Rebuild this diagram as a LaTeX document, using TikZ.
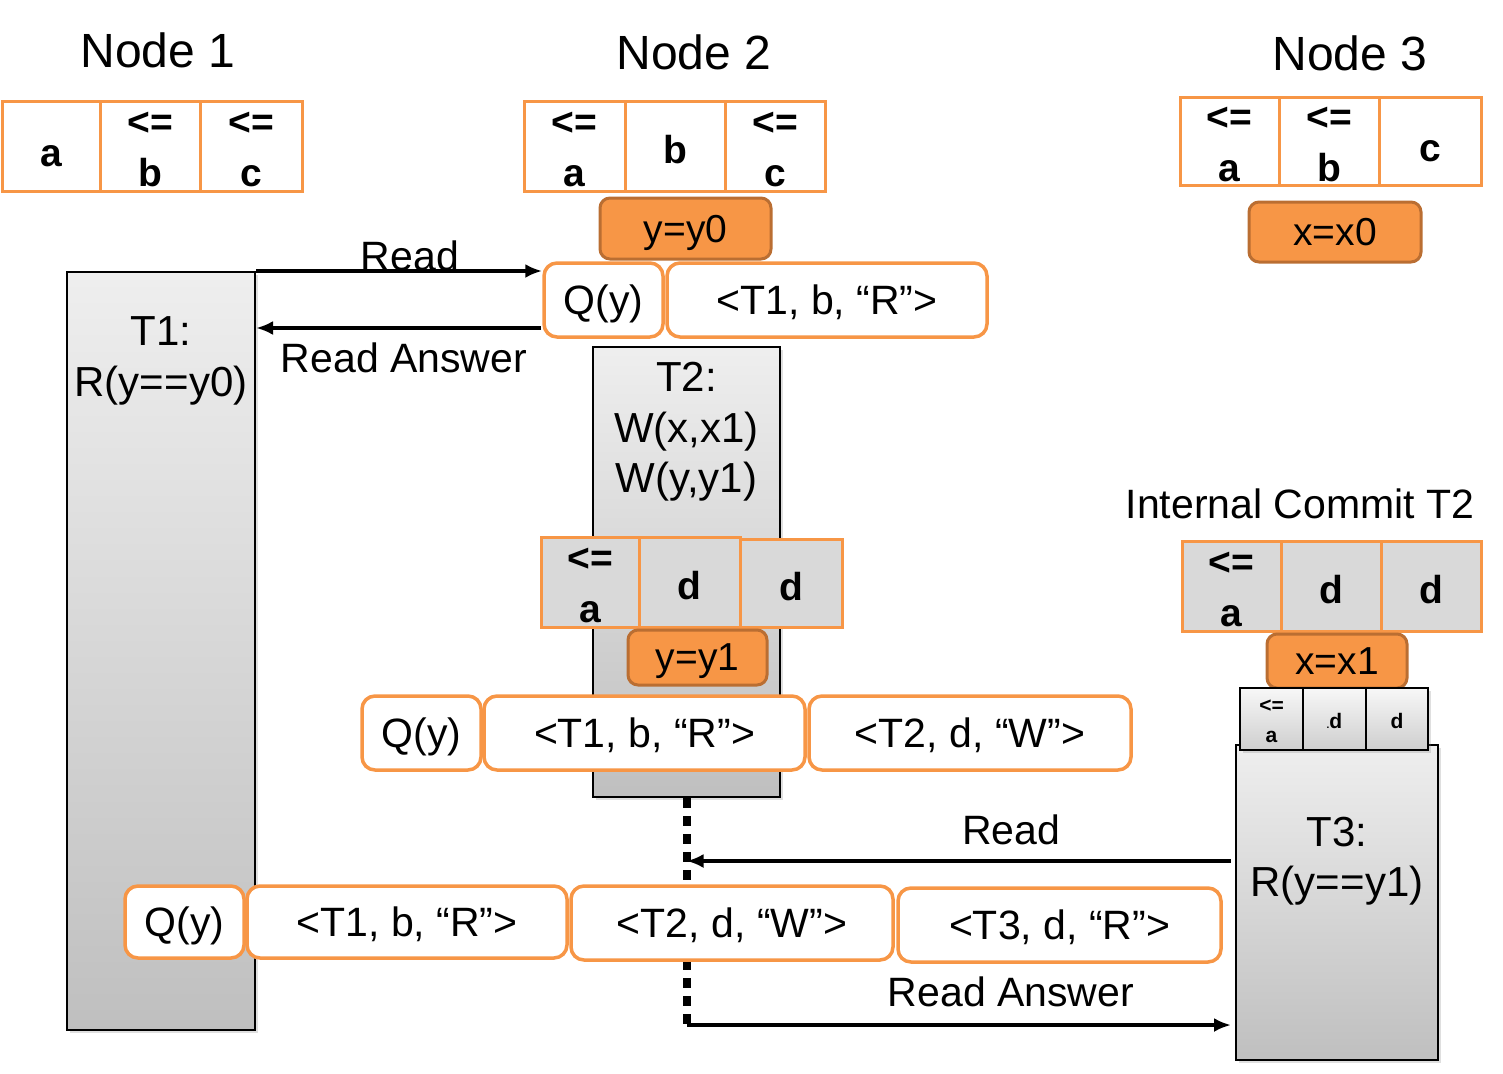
\documentclass[tikz,border=0pt]{standalone}
\usepackage{fontspec}
\setmainfont{Liberation Sans}
\usetikzlibrary{arrows.meta,shadows}
\definecolor{org}{RGB}{247,150,70}
\definecolor{orgdark}{RGB}{186,110,50}
\definecolor{cellgray}{RGB}{217,217,217}
\tikzset{
  titletext/.style={inner sep=0pt, font=\fontsize{48}{56}\selectfont},
  cell/.style={draw=org, line width=3pt, inner sep=0pt},
  graycell/.style={cell, fill=cellgray},
  ctext/.style={inner sep=0pt, align=center, yshift=-3.5pt,
    font=\fontsize{39}{51}\selectfont\bfseries},
  ctextlow/.style={ctext, yshift=-7pt},
  smallcell/.style={draw=black, line width=1.6pt, inner sep=0pt,
    top color=gray!6, bottom color=gray!38,
    drop shadow={opacity=0.25, shadow xshift=3pt, shadow yshift=-3pt}},
  stext/.style={inner sep=0pt, align=center, yshift=-2pt,
    font=\fontsize{21}{30}\selectfont\bfseries},
  valbox/.style={fill=org, draw=orgdark, line width=3pt, rounded corners=10pt,
    inner sep=0pt, text depth=0pt, font=\fontsize{39}{46}\selectfont},
  qbox/.style={draw=org, line width=3.5pt, rounded corners=13pt, fill=white,
    inner sep=0pt, text depth=0pt, font=\fontsize{41}{50}\selectfont},
  txbox/.style={draw=black, line width=2pt, inner sep=0pt,
    top color=gray!13, bottom color=gray!50,
    drop shadow={opacity=0.25, shadow xshift=3pt, shadow yshift=-3pt}},
  txtext/.style={inner sep=0pt, align=center, yshift=-4pt,
    font=\fontsize{42}{50.5}\selectfont},
  lbl/.style={inner sep=0pt, font=\fontsize{41}{50}\selectfont},
  msg/.style={line width=3.5pt, -{Latex[length=17pt, width=14pt]}},
  dotline/.style={line width=8pt, dash pattern=on 10pt off 8pt}
}
\begin{document}
\begin{tikzpicture}[x=1pt, y=-1pt]
\useasboundingbox (0,0) rectangle (1503,1073);

% transaction boxes
\node[txbox, minimum width=188pt, minimum height=758pt] (t1) at (161,651) {};
\node[txtext] (t1l) at (161,357) {T1:\\R(y==y0)};
\node[txbox, minimum width=187pt, minimum height=450pt] (t2) at (686.5,572) {};
\node[txtext] (t2l) at (686.5,428) {T2:\\W(x,x1)\\W(y,y1)};
\node[txbox, minimum width=202pt, minimum height=315pt] (t3) at (1337,902.5) {};
\node[txtext] (t3l) at (1337,857) {T3:\\R(y==y1)};

% dotted continuation of T2
\coordinate (dotend) at (686.5,1030);
\draw[dotline] (t2.south) -- (dotend);

% titles
\node[titletext] (n1t) at (158,50) {Node 1};
\node[titletext] (n2t) at (694,52) {Node 2};
\node[titletext] (n3t) at (1350,53) {Node 3};

% Node 1 table
\node[cell, minimum width=98pt, minimum height=90pt] (n1a) at (51,146) {};
\node[cell, minimum width=100pt, minimum height=90pt] (n1b) at (150,146) {};
\node[cell, minimum width=102pt, minimum height=90pt] (n1c) at (251,146) {};
\node[ctextlow] (n1at) at (n1a.center) {a};
\node[ctext] (n1bt) at (n1b.center) {<=\\b};
\node[ctext] (n1ct) at (n1c.center) {<=\\c};

% Node 2 table
\node[cell, minimum width=101pt, minimum height=90pt] (n2a) at (574.5,146) {};
\node[cell, minimum width=100pt, minimum height=90pt] (n2b) at (675,146) {};
\node[cell, minimum width=100pt, minimum height=90pt] (n2c) at (775,146) {};
\node[ctext] (n2at) at (n2a.center) {<=\\a};
\node[ctext] (n2bt) at (n2b.center) {b};
\node[ctext] (n2ct) at (n2c.center) {<=\\c};
\node[valbox, minimum width=171pt, minimum height=61pt] (y0) at (685.5,228.5) {y=y0};

% Node 3 table
\node[cell, minimum width=99pt, minimum height=88pt] (n3a) at (1229.5,141) {};
\node[cell, minimum width=100pt, minimum height=88pt] (n3b) at (1329,141) {};
\node[cell, minimum width=102pt, minimum height=88pt] (n3c) at (1430,141) {};
\node[ctext] (n3at) at (n3a.center) {<=\\a};
\node[ctext] (n3bt) at (n3b.center) {<=\\b};
\node[ctextlow] (n3ct) at (n3c.center) {c};
\node[valbox, minimum width=172pt, minimum height=60pt] (x0) at (1335,232) {x=x0};

% top queue at node 2
\node[qbox, minimum width=119pt, minimum height=74pt] (q1) at (603.5,300) {Q(y)};
\node[qbox, minimum width=320pt, minimum height=74pt] (q1a) at (827,300) {<T1, b, “R”>};

% messages T1 <-> node 2
\draw[msg] (t1.north east) -- (t1.north east -| q1.west);
\node[lbl] (rd1) at (410,256) {Read};
\coordinate (ra1) at (541,328);
\draw[msg] (ra1) -- (ra1 -| t1.east);
\node[lbl] (ra1l) at (404,358) {Read Answer};

% T2 table
\node[graycell, minimum width=98pt, minimum height=90pt] (t2a) at (590,582) {};
\node[graycell, minimum width=101pt, minimum height=90pt] (t2b) at (689.5,582) {};
\node[graycell, minimum width=102pt, minimum height=88pt] (t2c) at (791,583) {};
\node[ctext] (t2at) at (t2a.center) {<=\\a};
\node[ctext] (t2bt) at (t2b.center) {d};
\node[ctext] (t2ct) at (t2c.center) {d};
\node[valbox, minimum width=139pt, minimum height=55pt] (y1) at (697.5,657.5) {y=y1};

% middle queue
\node[qbox, minimum width=119pt, minimum height=74pt] (q2) at (421.5,733) {Q(y)};
\node[qbox, minimum width=321pt, minimum height=74pt] (q2a) at (644.5,733) {<T1, b, “R”>};
\node[qbox, minimum width=322pt, minimum height=74pt] (q2b) at (970,733) {<T2, d, “W”>};

% Node 3 after internal commit
\node[lbl] (ic) at (1300,504) {Internal Commit T2};
\node[graycell, minimum width=99pt, minimum height=90pt] (c3a) at (1231.5,586) {};
\node[graycell, minimum width=100pt, minimum height=90pt] (c3b) at (1331,586) {};
\node[graycell, minimum width=100pt, minimum height=90pt] (c3c) at (1431,586) {};
\node[ctext] (c3at) at (c3a.center) {<=\\a};
\node[ctext] (c3bt) at (c3b.center) {d};
\node[ctext] (c3ct) at (c3c.center) {d};
\node[valbox, minimum width=140pt, minimum height=54pt] (x1) at (1337,661) {x=x1};

% small table on T3
\node[smallcell, minimum width=63pt, minimum height=62pt] (s3a) at (1271.5,719) {};
\node[smallcell, minimum width=63pt, minimum height=62pt] (s3b) at (1334.5,719) {};
\node[smallcell, minimum width=62pt, minimum height=62pt] (s3c) at (1397,719) {};
\node[stext] (s3at) at (s3a.center) {<=\\a};
\node[stext] (s3bt) at (s3b.center) {{\fontsize{10}{12}\selectfont.}d};
\node[stext] (s3ct) at (s3c.center) {d};

% bottom queue
\node[qbox, minimum width=119pt, minimum height=72pt] (q3) at (184.5,922) {Q(y)};
\node[qbox, minimum width=320pt, minimum height=72pt] (q3a) at (407,922) {<T1, b, “R”>};
\node[qbox, minimum width=322pt, minimum height=74pt] (q3b) at (732,923) {<T2, d, “W”>};
\node[qbox, minimum width=323pt, minimum height=74pt] (q3c) at (1059.5,925) {<T3, d, “R”>};

% messages T3 <-> node 2
\coordinate (r3s) at (1231,861);
\draw[msg] (r3s) -- (r3s -| dotend);
\node[lbl] (rd3) at (1011,830) {Read};
\coordinate (ra3s) at (686.5,1025);
\draw[msg] (ra3s) -- (ra3s -| r3s);
\node[lbl] (ra3l) at (1011,992) {Read Answer};
\end{tikzpicture}
\end{document}
